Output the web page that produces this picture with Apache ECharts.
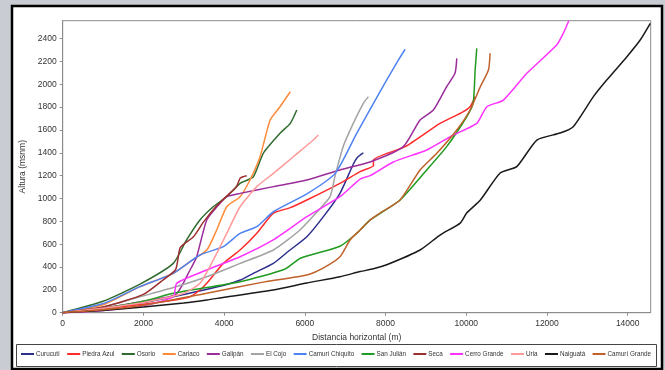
<!DOCTYPE html>
<html>
<head>
<meta charset="utf-8">
<script src="https://cdn.jsdelivr.net/npm/echarts@6/dist/echarts.min.js"></script>
<style>
  html, body { margin: 0; padding: 0; background: #c9cdd3; }
  #chart { width: 665px; height: 370px; }
</style>
</head>
<body>
<div id="chart"></div>
<script>
// Perfiles longitudinales de las cuencas: [distancia horizontal (m), altura (msnm)]
const curucuti = [[0,0],[1000,35],[2000,90],[3000,160],[4000,240],[4400,286],[4725,345],[5220,432],[5600,540],[6050,665],[6460,841],[6870,1045],[7200,1300],[7300,1360],[7450,1400]];
const piedraAzul = [[0,0],[1000,35],[2000,75],[2740,110],[3155,140],[3400,199],[3570,257],[3980,432],[4395,549],[4810,695],[5215,870],[5640,920],[6050,987],[6870,1133],[7370,1235],[7700,1290],[7700,1337],[8485,1454],[9350,1658],[9850,1746],[10095,1804],[10220,1892]];
const osorio = [[0,0],[1000,100],[1915,250],[2740,432],[3070,637],[3400,812],[3730,928],[4065,1016],[4395,1133],[4725,1191],[4970,1396],[5385,1571],[5640,1658],[5800,1775]];
const cariaco = [[0,0],[1000,70],[1915,228],[2740,345],[3155,447],[3570,549],[3815,724],[4065,928],[4395,1016],[4640,1162],[4890,1366],[5140,1687],[5385,1804],[5640,1935]];
const galipan = [[0,0],[1000,40],[2000,100],[2800,160],[3155,374],[3320,490],[3570,812],[3900,958],[4065,1016],[4395,1045],[5220,1104],[6050,1162],[6870,1250],[7616,1320],[8440,1454],[8855,1687],[9185,1775],[9515,1980],[9720,2096],[9765,2227]];
const elCojo = [[0,0],[1000,50],[1915,140],[2740,220],[3570,315],[4395,432],[5220,549],[5880,724],[6295,880],[6625,1016],[6750,1200],[6955,1460],[7200,1658],[7450,1834],[7575,1892]];
const camuriChiquito = [[0,0],[1000,80],[1915,228],[2740,345],[3400,505],[3980,578],[4395,695],[4810,753],[5220,884],[6050,1040],[6750,1220],[7285,1571],[7700,1834],[8030,2038],[8320,2213],[8485,2307]];
const sanJulian = [[0,0],[1000,40],[2000,100],[2740,170],[4395,271],[5500,380],[5890,477],[6870,582],[7285,695],[7616,810],[8360,987],[9020,1250],[9515,1454],[10010,1716],[10170,1835],[10220,2125],[10260,2315]];
const seca = [[0,0],[1000,50],[2000,160],[2500,290],[2800,380],[2900,560],[3000,600],[3240,665],[3500,800],[3800,930],[4000,1000],[4300,1100],[4400,1180],[4560,1200]];
const cerroGrande = [[0,0],[1000,20],[2000,60],[2740,140],[2825,257],[3570,374],[4395,490],[5215,637],[6050,841],[6870,1016],[7370,1170],[7616,1200],[8195,1320],[9020,1425],[9680,1556],[10260,1658],[10510,1804],[10920,1862],[11500,2096],[12240,2344],[12405,2447],[12540,2557]];
const uria = [[0,0],[1000,40],[2000,90],[3000,170],[3400,257],[3730,461],[4065,695],[4395,928],[4810,1104],[5220,1220],[5715,1366],[6210,1512],[6335,1556]];
const naiguata = [[0,0],[1000,20],[2000,50],[3000,85],[3570,111],[4000,135],[5215,199],[6050,260],[6870,315],[7370,360],[7700,385],[8030,420],[8855,549],[9350,680],[9850,785],[10010,873],[10350,987],[10840,1223],[11250,1279],[11750,1512],[12325,1573],[12650,1629],[13150,1892],[13480,2037],[13980,2242],[14310,2388],[14560,2534]];
const camuriGrande = [[0,0],[1000,25],[2000,65],[3570,170],[5000,270],[6050,330],[6450,390],[6870,490],[7120,637],[7370,724],[7616,812],[7865,873],[8360,987],[8855,1250],[9270,1396],[9765,1600],[10095,1775],[10350,1980],[10550,2125],[10590,2272]];

const seriesNames = ['Curucutí','Piedra Azul','Osorio','Cariaco','Galipán','El Cojo','Camurí Chiquito','San Julián','Seca','Cerro Grande','Uria','Naiguatá','Camurí Grande'];
const seriesData = [curucuti, piedraAzul, osorio, cariaco, galipan, elCojo, camuriChiquito, sanJulian, seca, cerroGrande, uria, naiguata, camuriGrande];
const seriesColors = ['#2e2e8f','#ff2a2a','#2f6b2f','#ff8a3a','#9a2d9a','#a3a3a3','#4f82f2','#1f9b1f','#9c2f2f','#ff33ff','#ff9a9a','#1a1a1a','#c0602a'];

const xTicks = { min: 0, max: 14570, interval: 2000 };
const yTicks = { min: 0, max: 2557, interval: 200 };

const chart = echarts.init(document.getElementById('chart'), null, { renderer: 'canvas' });
const font = "'Liberation Sans', Arial, sans-serif";
const plain = v => String(Math.round(v));

chart.setOption({
  animation: false,
  backgroundColor: 'transparent',
  graphic: [
    { type: 'rect', z: -10, shape: { x: 12, y: 6, width: 650, height: 363 },
      style: { fill: '#ffffff', stroke: '#000000', lineWidth: 2.5 } },
    { type: 'rect', z: -9, shape: { x: 16.5, y: 344.5, width: 640, height: 22 },
      style: { fill: '#ffffff', stroke: '#444444', lineWidth: 1 } }
  ],
  grid: { left: 62.7, top: 20.7, right: 14.3, bottom: 57.3, show: true,
          borderColor: '#8c8c8c', borderWidth: 1, backgroundColor: '#ffffff' },
  legend: {
    data: seriesNames, left: 21, top: 351, itemGap: 7.4, itemWidth: 13, itemHeight: 2,
    icon: 'rect', padding: 0,
    textStyle: { fontSize: 6.3, fontFamily: font, color: '#333', padding: [0, 0, 0, -3] }
  },
  xAxis: {
    type: 'value', min: xTicks.min, max: xTicks.max, interval: xTicks.interval,
    name: 'Distancia horizontal (m)', nameLocation: 'middle', nameGap: 20,
    nameTextStyle: { fontSize: 8.5, fontFamily: font, color: '#333' },
    axisLine: { lineStyle: { color: '#8c8c8c' } },
    axisTick: { length: 3, lineStyle: { color: '#8c8c8c' } },
    axisLabel: { fontSize: 8.5, fontFamily: font, color: '#333', margin: 6, showMaxLabel: false, formatter: plain },
    splitLine: { show: false }
  },
  yAxis: {
    type: 'value', min: yTicks.min, max: yTicks.max, interval: yTicks.interval,
    name: 'Altura (msnm)', nameLocation: 'middle', nameGap: 31, nameRotate: 90,
    nameTextStyle: { fontSize: 8.5, fontFamily: font, color: '#333' },
    axisLine: { show: true, lineStyle: { color: '#8c8c8c' } },
    axisTick: { show: true, length: 3, lineStyle: { color: '#8c8c8c' } },
    axisLabel: { fontSize: 8.5, fontFamily: font, color: '#333', margin: 6, showMaxLabel: false, formatter: plain },
    splitLine: { show: false }
  },
  series: seriesNames.map((name, i) => ({
    name, type: 'line', data: seriesData[i], showSymbol: false, smooth: 0.2,
    clip: true, color: seriesColors[i],
    lineStyle: { width: 1.5, color: seriesColors[i] }
  }))
});
</script>
</body>
</html>
